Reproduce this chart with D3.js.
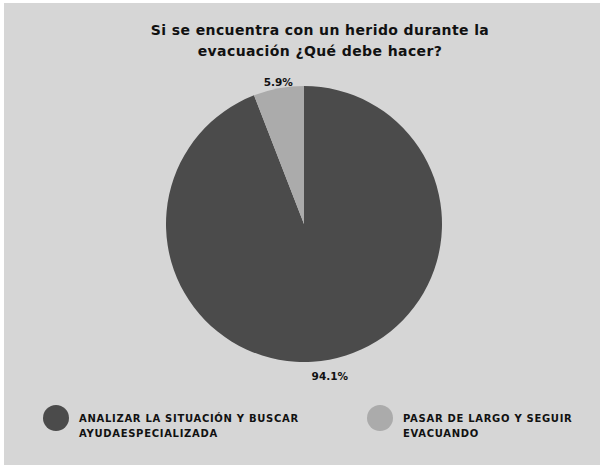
<!DOCTYPE html>
<html>
<head>
<meta charset="utf-8">
<script src="https://cdn.jsdelivr.net/npm/d3@7"></script>
<style>
  html, body { margin: 0; padding: 0; background: #ffffff; }
  svg { display: block; }
</style>
</head>
<body>
<svg id="chart" width="600" height="465"></svg>
<script>
const titleLines = ["Si se encuentra con un herido durante la", "evacuación ¿Qué debe hacer?"];
const categories = ["ANALIZAR LA SITUACIÓN Y BUSCAR AYUDAESPECIALIZADA", "PASAR DE LARGO Y SEGUIR EVACUANDO"];
const legendLines = [["ANALIZAR LA SITUACIÓN Y BUSCAR", "AYUDAESPECIALIZADA"], ["PASAR DE LARGO Y SEGUIR", "EVACUANDO"]];
const values = [94.1, 5.9];
const colors = ["#4b4b4b", "#ababab"];

const svg = d3.select("#chart");
const font = "'DejaVu Sans', sans-serif";

svg.append("rect").attr("x", 4).attr("y", 3).attr("width", 596).attr("height", 462).attr("fill", "#d6d6d6");

svg.append("g").selectAll("text").data(titleLines).join("text")
  .attr("x", 320).attr("y", (d, i) => 35 + i * 21)
  .attr("text-anchor", "middle")
  .attr("font-family", font).attr("font-weight", "bold").attr("font-size", 14)
  .attr("letter-spacing", 0.4)
  .attr("fill", "#111").text(d => d);

const cx = 304, cy = 224, r = 138;
const pie = d3.pie().sort(null).value(d => d);
const arcs = pie(values);
const arc = d3.arc().innerRadius(0).outerRadius(r);

const g = svg.append("g").attr("transform", `translate(${cx},${cy})`);
g.selectAll("path").data(arcs).join("path")
  .attr("d", arc).attr("fill", (d, i) => colors[i]);

// percentage labels sit just outside the rim: above for upper slices, below for lower ones
const labelArc = d3.arc().innerRadius(r + 2).outerRadius(r + 2);
g.selectAll("text.pct").data(arcs).join("text")
  .attr("class", "pct")
  .attr("transform", d => {
    const [x, y] = labelArc.centroid(d);
    return `translate(${x},${y})`;
  })
  .attr("text-anchor", "middle")
  .attr("dy", d => labelArc.centroid(d)[1] < 0 ? "0em" : "1.8em")
  .attr("font-family", font).attr("font-weight", "bold").attr("font-size", 10.5)
  .attr("fill", "#111")
  .text(d => d3.format(".1f")(d.data) + "%");

// legend
const legendX = [56, 380];
const lg = svg.append("g").selectAll("g").data(categories).join("g")
  .attr("transform", (d, i) => `translate(${legendX[i]},418)`);
lg.append("circle").attr("r", 13).attr("fill", (d, i) => colors[i]);
lg.append("text")
  .attr("font-family", font).attr("font-weight", "bold").attr("font-size", 10)
  .attr("letter-spacing", 0.7)
  .attr("fill", "#111")
  .selectAll("tspan").data((d, i) => legendLines[i]).join("tspan")
  .attr("x", 23).attr("y", (d, j) => 4 + j * 15)
  .text(d => d);
</script>
</body>
</html>
